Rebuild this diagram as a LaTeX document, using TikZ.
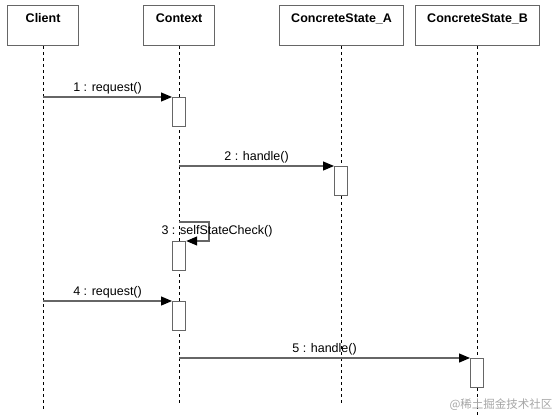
\documentclass[tikz,border=0pt]{standalone}
\usepackage{fontspec}
\setmainfont{Liberation Sans}
\newfontfamily\cjkfont{Noto Sans CJK SC}
\usepackage{xcolor}
\usetikzlibrary{arrows.meta}
\usetikzlibrary{positioning}

\definecolor{boxgray}{HTML}{666666}

\begin{document}
\begin{tikzpicture}[x=1pt, y=-1pt,
  obj/.style={draw=boxgray, fill=white, line width=1.2pt, anchor=north west,
    inner xsep=0pt, inner ysep=0pt, text height=17pt, text depth=23pt,
    font=\bfseries\fontsize{12.5}{15}\selectfont},
  act/.style={draw=boxgray, fill=white, line width=1.2pt, anchor=north west,
    minimum width=13pt, minimum height=29pt, inner sep=0pt},
  life/.style={black, line width=0.7pt, dash pattern=on 3pt off 3pt},
  msg/.style={boxgray, line width=1.2pt, -{Triangle[black, length=11pt, width=9pt]}},
  lbl/.style={font=\fontsize{12.5}{15}\selectfont, text=black, inner sep=2pt}]
  \useasboundingbox (0,0) rectangle (557,416);

  % objects
  \node[obj, minimum width=71pt]  (client) at (7,5)   {Client};
  \node[obj, minimum width=71pt]  (ctx)    at (143,5) {Context};
  \node[obj, minimum width=124pt] (sta)    at (279,5) {ConcreteState\_A};
  \node[obj, minimum width=124pt] (stb)    at (415,5) {ConcreteState\_B};

  % lifelines
  \foreach \o/\e in {client/412, ctx/403, sta/403, stb/416} {
    \coordinate (\o end) at (\o.south |- 0,\e);
    \draw[life] (\o.south) -- (\o end);
  }

  % activations
  \node[act] (a1) at (172,97)  {};
  \node[act] (a2) at (334,166) {};
  \node[act] (a3) at (172,241) {};
  \node[act] (a4) at (172,301) {};
  \node[act] (a5) at (470,358) {};

  % messages
  \draw[msg] (client |- a1.north west) -- (a1.north west)
    node[lbl, midway, above] {1 : request()};
  \draw[msg] (ctx |- a2.north west) -- (a2.north west)
    node[lbl, midway, above] {2 : handle()};
  \coordinate (loop) at (209,222);
  \draw[msg] (ctx |- loop) -- (loop) |- (a3.north east);
  \node[lbl] (l3) at (217,231) {3 : selfStateCheck()};
  \draw[msg] (client |- a4.north west) -- (a4.north west)
    node[lbl, midway, above] {4 : request()};
  \draw[msg] (ctx |- a5.north west) -- (a5.north west)
    node[lbl, midway, above] {5 : handle()};

  % watermark
  \node[font=\cjkfont\fontsize{11.5}{13}\selectfont, text=black!35] (wm) at (501,405) {@稀土掘金技术社区};
\end{tikzpicture}
\end{document}
